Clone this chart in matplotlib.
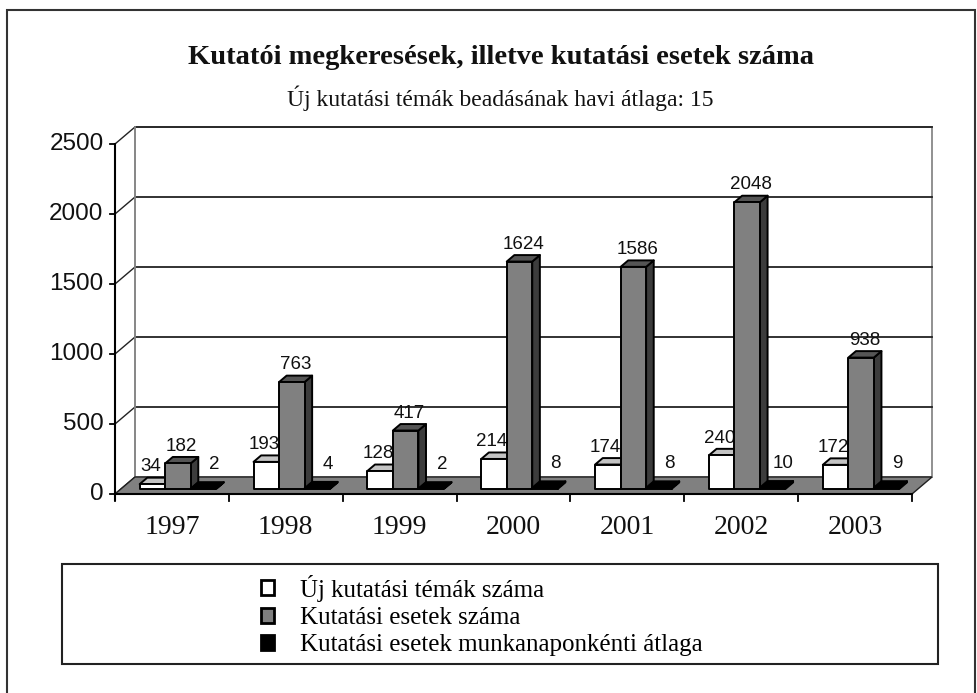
import matplotlib
matplotlib.use("Agg")
import matplotlib.pyplot as plt
from matplotlib.patches import Polygon, Rectangle, Patch

# data
years = ['1997', '1998', '1999', '2000', '2001', '2002', '2003']
uj_temak = [34, 193, 128, 214, 174, 240, 172]
esetek = [182, 763, 417, 1624, 1586, 2048, 938]
napi_atlag = [2, 4, 2, 8, 8, 10, 9]
series_names = ['Új kutatási témák száma',
                'Kutatási esetek száma',
                'Kutatási esetek munkanaponkénti átlaga']
yticks = [0, 500, 1000, 1500, 2000, 2500]

title = 'Kutatói megkeresések, illetve kutatási esetek száma'
subtitle = 'Új kutatási témák beadásának havi átlaga: 15'

# colours: front, top, side
colors = [('white', '#c4c4c4', '#c4c4c4'),
          ('#808080', '#555555', '#3c3c3c'),
          ('black', 'black', 'black')]
# label nudges per series (x in px, y in value units)
lab_dx = [-6, 0, 7]
lab_dy = [45, 45, 95]

W, H = 978, 693
fig = plt.figure(figsize=(W / 100, H / 100), dpi=100)

# pixel layout of the front plane
x0px, unitpx = 115, 113.86      # x of category 0, px per category
y0px, vpx = 494, 0.14           # y of value 0, px per value unit
xlim = (-0.3, 7.3)
ylim = (-400, 2750)
left = x0px + xlim[0] * unitpx
right = x0px + xlim[1] * unitpx
top = y0px - ylim[1] * vpx
bottom = y0px - ylim[0] * vpx
ax = fig.add_axes([left / W, 1 - bottom / H, (right - left) / W, (bottom - top) / H])
ax.set_xlim(*xlim)
ax.set_ylim(*ylim)
ax.axis('off')

# depth vector in data units
dx = 20 / unitpx
dy = 17 / vpx
ncat = len(years)
ymax = yticks[-1]

# walls
ax.add_patch(Polygon([(0, 0), (dx, dy), (dx, ymax + dy), (0, ymax)],
                     closed=True, fc='white', ec='none', zorder=0))
ax.add_patch(Polygon([(dx, dy), (ncat + dx, dy), (ncat + dx, ymax + dy), (dx, ymax + dy)],
                     closed=True, fc='white', ec='#888888', lw=1.3, zorder=0))
# floor
ax.add_patch(Polygon([(0, 0), (ncat, 0), (ncat + dx, dy), (dx, dy)],
                     closed=True, fc='#808080', ec='#202020', lw=1.0, zorder=1))

# gridlines on back wall + diagonals on left wall
for t in yticks:
    if t > 0:
        ax.plot([dx, ncat + dx], [t + dy, t + dy], color='#222222', lw=1.3, zorder=0.5)
    ax.plot([0, dx], [t, t + dy], color='#222222', lw=1.0, zorder=0.5)
    ax.plot([-0.045, 0], [t, t], color='black', lw=1.3, zorder=2)
    ax.text(-0.1, t, str(t), ha='right', va='center', fontsize=17.5,
            family='Liberation Sans', color='#111111')
ax.plot([dx, dx], [dy, ymax + dy], color='#888888', lw=1.3, zorder=0.5)

# axes lines
ax.plot([0, 0], [-45, ymax], color='black', lw=1.5, zorder=2)
ax.plot([0, ncat], [0, 0], color='black', lw=1.5, zorder=2)
for i in range(ncat + 1):
    ax.plot([i, i], [0, -50], color='black', lw=1.3, zorder=2)
for i, yr in enumerate(years):
    ax.text(i + 0.5, -236, yr, ha='center', va='center', fontsize=20,
            family='Liberation Serif', color='#111111')

# bars
bw = 0.224
off = 0.164
f0, f1 = 0.3, 0.68
z = 3
series = [uj_temak, esetek, napi_atlag]
for i in range(ncat):
    for j, vals in enumerate(series):
        v = vals[i]
        fc, tc, sc = colors[j]
        xa = i + off + j * bw
        xb = xa + bw
        front = [(xa + f0 * dx, f0 * dy), (xb + f0 * dx, f0 * dy),
                 (xb + f0 * dx, v + f0 * dy), (xa + f0 * dx, v + f0 * dy)]
        topf = [(xa + f0 * dx, v + f0 * dy), (xb + f0 * dx, v + f0 * dy),
                (xb + f1 * dx, v + f1 * dy), (xa + f1 * dx, v + f1 * dy)]
        side = [(xb + f0 * dx, f0 * dy), (xb + f1 * dx, f1 * dy),
                (xb + f1 * dx, v + f1 * dy), (xb + f0 * dx, v + f0 * dy)]
        for poly, c in ((side, sc), (topf, tc), (front, fc)):
            ax.add_patch(Polygon(poly, closed=True, fc=c, ec='black', lw=1.4,
                                 joinstyle='round', zorder=z))
        z += 1
        ax.text(xa + bw / 2 + 0.5 * (f0 + f1) * dx + lab_dx[j] / unitpx,
                v + f1 * dy + lab_dy[j], str(v),
                ha='center', va='baseline', fontsize=13.5, family='Liberation Sans',
                color='#111111', zorder=z)
        z += 1

# titles
fig.text(0.5118, 1 - 58 / H, title, ha='center', va='center', fontsize=20.5,
         fontweight='bold', family='Liberation Serif', color='#111111')
fig.text(0.511, 1 - 98 / H, subtitle, ha='center', va='center', fontsize=17,
         family='Liberation Serif', color='#111111')

# legend box and legend
fig.patches.append(Rectangle((62 / W, 1 - 664 / H), (938 - 62) / W, 100 / H,
                             transform=fig.transFigure, fill=False, ec='#222222', lw=1.5))
handles = [Patch(fc=colors[k][0], ec='black', lw=2) for k in range(3)]
fig.legend(handles, series_names, loc='upper left',
           bbox_to_anchor=(243 / W, 1 - 557 / H), frameon=False,
           prop={'family': 'Liberation Serif', 'size': 18},
           handlelength=0.55, handleheight=0.55, handletextpad=1.05,
           labelspacing=0.22, borderpad=0.2)

# outer frame
fig.patches.append(Rectangle((7 / W, -0.01), (975 - 7) / W, 1 - 10 / H + 0.01,
                             transform=fig.transFigure, fill=False, ec='#333333', lw=1.5))

fig.savefig('out.png', dpi=100)
